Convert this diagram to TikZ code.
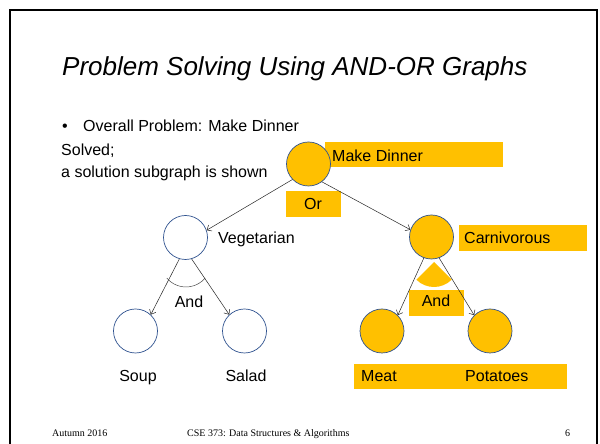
\documentclass[tikz,border=0pt]{standalone}
\usepackage{fontspec}
\setmainfont{Liberation Sans}
\newfontfamily\footfont{Liberation Serif}
\usetikzlibrary{arrows.meta}
\definecolor{gold}{HTML}{FFC000}
\definecolor{ring}{HTML}{2F528F}
\begin{document}
\begin{tikzpicture}[x=1pt,y=1pt,
  circ/.style={circle,draw=ring,line width=0.7pt,minimum size=44pt,inner sep=0pt},
  sol/.style={circ,fill=gold},
  open/.style={circ,fill=white},
  lbl/.style={inner sep=0pt,font=\fontsize{16}{19}\selectfont,anchor=base west},
  clbl/.style={inner sep=0pt,font=\fontsize{16}{19}\selectfont,anchor=base},
  box/.style={fill=gold,draw=none,inner sep=0pt,anchor=south west},
  foot/.style={inner sep=0pt,font=\footfont\fontsize{10}{12}\selectfont,anchor=base west},
  edge/.style={line width=0.5pt,draw=black!85,-{Straight Barb[length=4pt,width=7pt]}}]
\useasboundingbox (0,0) rectangle (600,444);
\fill[white] (0,0) rectangle (600,444);
\draw[line width=1.6pt] (10,-5) -- (10,434) -- (597,434) -- (597,-5);

% title and text
\node[inner sep=0pt,anchor=base west,font=\fontsize{26}{30}\selectfont\itshape] (title) at (62,368) {Problem Solving Using AND-OR Graphs};
\node[lbl] (bul) at (62,312) {•};
\node[lbl] (overall) at (83,312) {Overall Problem: Make Dinner};
\node[lbl] (solved) at (61,288) {Solved;};
\node[lbl] (shown) at (61,266) {a solution subgraph is shown};

% highlight boxes
\node[box,minimum width=178pt,minimum height=25pt] (mdbox) at (325,277) {};
\node[box,minimum width=55pt,minimum height=26pt] (orbox) at (286,227) {};
\node[box,minimum width=128pt,minimum height=26pt] (carnbox) at (459,193) {};
\node[box,minimum width=55pt,minimum height=26pt] (andbox) at (409,128) {};
\node[box,minimum width=213pt,minimum height=25pt] (leafbox) at (354,55) {};

% and markers
\fill[gold] (434,182) -- ++(-135:25) arc[start angle=-135,end angle=-45,radius=25] -- cycle;
\draw[line width=0.5pt,black!70] (186,182) ++(-140:25) arc[start angle=-140,end angle=-40,radius=25];

% circles
\node[sol] (md) at (308.5,280) {};
\node[open] (veg) at (185.5,206.5) {};
\node[sol] (carn) at (431.5,207) {};
\node[open] (soup) at (135.5,113) {};
\node[open] (salad) at (244.5,113) {};
\node[sol] (meat) at (382,113) {};
\node[sol] (pot) at (490,113) {};

% edges
\draw[edge] (md.-136) -- (veg.19);
\draw[edge] (md.-53) -- (carn.161);
\draw[edge] (veg.-106) -- (soup.47);
\draw[edge] (veg.-74) -- (salad.133);
\draw[edge] (carn.-110) -- (meat.45);
\draw[edge] (carn.-70) -- (pot.135);

% labels
\node[lbl] (mdt) at (332,282.5) {Make Dinner};
\node[clbl] (ort) at (313,234) {Or};
\node[lbl] (carnt) at (464,200) {Carnivorous};
\node[lbl] (vegt) at (218,200) {Vegetarian};
\node[clbl] (andl) at (189,136) {And};
\node[clbl] (andr) at (436,137) {And};
\node[clbl] (soupt) at (138,62) {Soup};
\node[clbl] (saladt) at (246,62) {Salad};
\node[lbl] (meatt) at (361,62) {Meat};
\node[lbl] (pott) at (465,62) {Potatoes};

% footer
\node[foot] (f1) at (52,7) {Autumn 2016};
\node[foot] (f2) at (187,7) {CSE 373: Data Structures \& Algorithms};
\node[foot] (f3) at (565,7) {6};
\end{tikzpicture}
\end{document}
